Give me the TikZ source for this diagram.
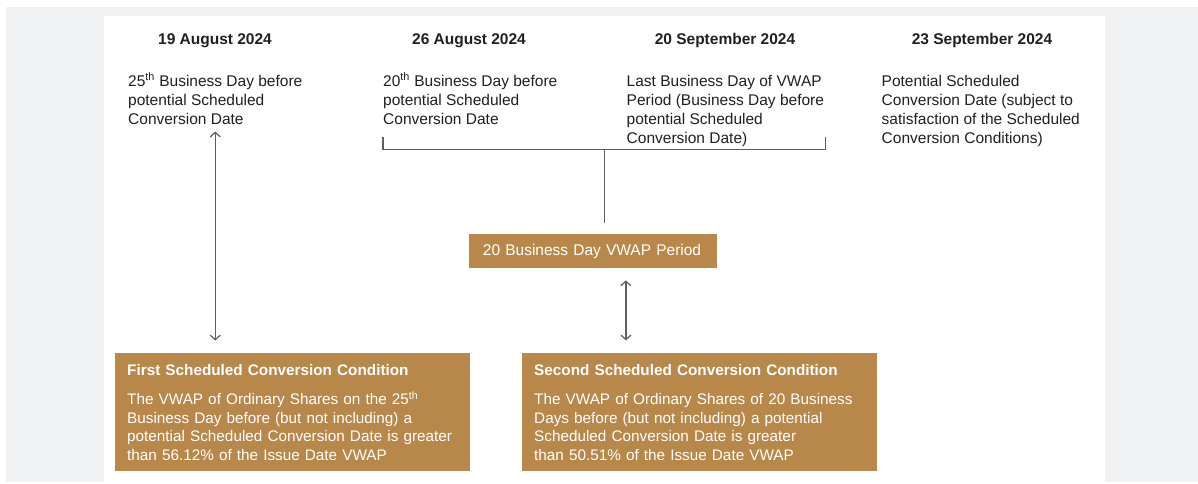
\documentclass[tikz,border=0pt]{standalone}
\usepackage{fontspec}
\setmainfont{Liberation Sans}
\usetikzlibrary{positioning,arrows.meta}

\definecolor{bronze}{HTML}{B8884A}
\definecolor{panelgrey}{HTML}{F0F1F3}
\definecolor{linegrey}{HTML}{5E5E5E}
\definecolor{inkblack}{HTML}{231F20}

\newcommand{\txtsize}{\fontsize{15.5}{19}\selectfont}
\newcommand{\boxsize}{\fontsize{15.3}{18.6}\selectfont}
\newcommand{\topstrut}{\rule{0pt}{15pt}}
\newcommand{\bottomstrut}{\rule[-4pt]{0pt}{4pt}}

\tikzset{
  heading/.style={anchor=base,inner sep=0pt,font=\txtsize\bfseries,text=inkblack},
  datenote/.style={anchor=north west,inner sep=0pt,font=\txtsize,align=left,text=inkblack},
  condbox/.style={anchor=north west,fill=bronze,text=white,font=\boxsize,align=left,
    text width=331pt,inner xsep=12pt,inner ysep=0pt,minimum height=118pt},
  periodbox/.style={anchor=north west,fill=bronze,text=white,font=\txtsize,align=left,
    text width=220pt,inner xsep=13.7pt,inner ysep=0pt,minimum height=33.7pt},
  dblarrow/.style={draw=linegrey,line width=1.2pt,
    {Straight Barb[length=4.5pt,width=10pt]}-{Straight Barb[length=4.5pt,width=10pt]}},
  bracketline/.style={draw=linegrey,line width=1.2pt}
}

\begin{document}
\begin{tikzpicture}[x=1pt,y=1pt,yscale=-1,xscale=1]

\useasboundingbox (0,0) rectangle (1198,484);
% background panels
\fill [panelgrey] (6,7) rectangle (1198,482);
\fill [white] (104,16) rectangle (1105,482);

% Text Node
\draw (215,45) node (h1) [heading] {19 August 2024};
% Text Node
\draw (469,45) node (h2) [heading] {26 August 2024};
% Text Node
\draw (725,45) node (h3) [heading] {20 September 2024};
% Text Node
\draw (982,45) node (h4) [heading] {23 September 2024};

% Text Node
\draw (128,71) node (t1) [datenote] {\topstrut25\textsuperscript{th} Business Day before\\potential Scheduled\\Conversion Date};
% Text Node
\draw (383,71) node (t2) [datenote] {\topstrut20\textsuperscript{th} Business Day before\\potential Scheduled\\Conversion Date};
% Text Node
\draw (626.5,71) node (t3) [datenote] {\topstrut Last Business Day of VWAP\\Period (Business Day before\\potential Scheduled\\Conversion Date)};
% Text Node
\draw (881.5,71) node (t4) [datenote] {\topstrut Potential Scheduled\\Conversion Date (subject to\\satisfaction of the Scheduled\\Conversion Conditions)};

% Text Node
\draw (469,234) node (vwap) [periodbox] {20 Business Day VWAP Period};

% Text Node
\draw (115,353) node (c1) [condbox] {\topstrut\textbf{First Scheduled Conversion Condition}\\[10.7pt]The VWAP of Ordinary Shares on the 25\textsuperscript{th}\\Business Day before (but not including) a\\potential Scheduled Conversion Date is greater\\than 56.12\% of the Issue Date VWAP\bottomstrut};
% Text Node
\draw (522,353) node (c2) [condbox] {\topstrut\textbf{Second Scheduled Conversion Condition}\\[10.7pt]The VWAP of Ordinary Shares of 20 Business\\Days before (but not including) a potential\\Scheduled Conversion Date is greater\\than 50.51\% of the Issue Date VWAP\bottomstrut};

%Straight Lines
\coordinate (brkL) at (t2.west |- 149.3,149.3);
\coordinate (brkR) at (825.7,149.3);
\coordinate (brkM) at (604.3,149.3);
\draw [bracketline] ([yshift=-12.3pt]brkL) -- (brkL) -- (brkR) -- ([yshift=-12.3pt]brkR);
\draw [bracketline,shorten >=11pt] (brkM) -- (brkM |- vwap.north);

%Straight Lines
\draw [dblarrow,shorten <=7pt,shorten >=12.5pt] (t1.south) -- (t1.south |- c1.north);
\draw [dblarrow,shorten <=12.3pt,shorten >=12.6pt] ([xshift=33pt]vwap.south) -- ([xshift=33pt]vwap.south |- c2.north);

\end{tikzpicture}
\end{document}
